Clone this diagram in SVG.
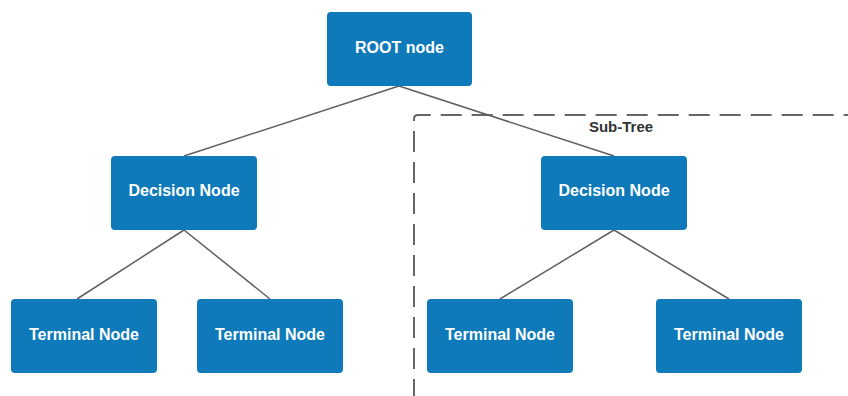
<svg xmlns="http://www.w3.org/2000/svg" width="848" height="396" viewBox="0 0 848 396">
  <style>
    .node rect { fill: #0e7ab9; }
    .node text { fill: #ffffff; font-family: "Liberation Sans", Arial, sans-serif; font-weight: bold; font-size: 16px; text-anchor: middle; }
    .edge { stroke: #5f5f5f; stroke-width: 1.5; fill: none; }
    .frame { stroke: #666666; stroke-width: 2; fill: none; stroke-dasharray: 21 10; }
    .frame-label { fill: #333333; font-family: "Liberation Sans", Arial, sans-serif; font-weight: bold; font-size: 15px; text-anchor: middle; }
  </style>

  <!-- sub-tree frame -->
  <g id="subtree">
    <path class="frame" d="M414,400 V119 Q414,115 418,115 H860"/>
    <text class="frame-label" x="621" y="132">Sub-Tree</text>
  </g>

  <!-- connectors -->
  <g id="edges">
    <line class="edge" x1="399" y1="86" x2="184" y2="156"/>
    <line class="edge" x1="399" y1="86" x2="614" y2="156"/>
    <line class="edge" x1="184" y1="230" x2="77" y2="299"/>
    <line class="edge" x1="184" y1="230" x2="270" y2="299"/>
    <line class="edge" x1="614" y1="230" x2="500" y2="299"/>
    <line class="edge" x1="614" y1="230" x2="729" y2="299"/>
  </g>

  <g id="root" class="node">
    <rect x="327" y="12" width="145" height="74" rx="4"/>
    <text x="399.5" y="52.5">ROOT node</text>
  </g>
  <g id="decision-left" class="node">
    <rect x="111" y="156" width="146" height="74" rx="4"/>
    <text x="184" y="196">Decision Node</text>
  </g>
  <g id="decision-right" class="node">
    <rect x="541" y="156" width="146" height="74" rx="4"/>
    <text x="614" y="196">Decision Node</text>
  </g>
  <g id="terminal-1" class="node">
    <rect x="11" y="299" width="146" height="74" rx="4"/>
    <text x="84" y="339.5">Terminal Node</text>
  </g>
  <g id="terminal-2" class="node">
    <rect x="197" y="299" width="146" height="74" rx="4"/>
    <text x="270" y="339.5">Terminal Node</text>
  </g>
  <g id="terminal-3" class="node">
    <rect x="427" y="299" width="146" height="74" rx="4"/>
    <text x="500" y="339.5">Terminal Node</text>
  </g>
  <g id="terminal-4" class="node">
    <rect x="656" y="299" width="146" height="74" rx="4"/>
    <text x="729" y="339.5">Terminal Node</text>
  </g>
</svg>
